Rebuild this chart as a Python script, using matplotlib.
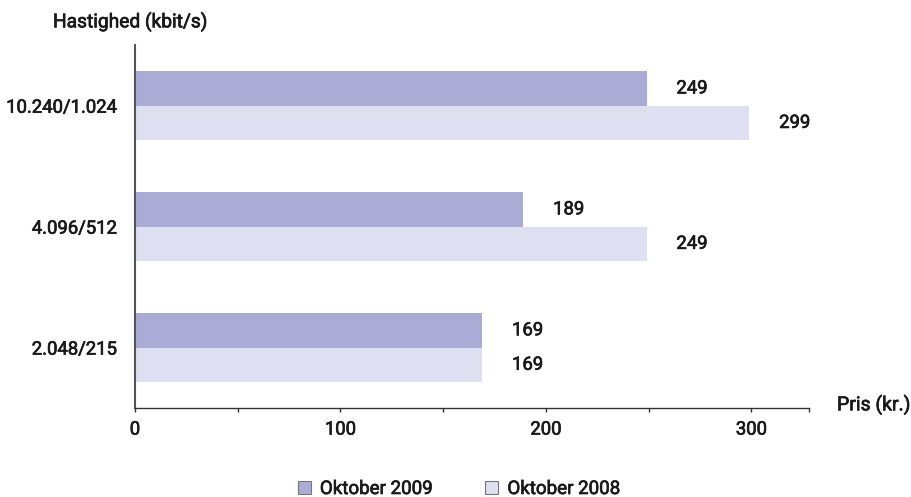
import numpy as np
from matplotlib import pyplot as plt
from matplotlib.patches import Patch
import matplotlib.patheffects as pe

categories = ['2.048/215', '4.096/512', '10.240/1.024']
oktober_2009 = [169, 189, 249]
oktober_2008 = [169, 249, 299]
x_ticks = [0, 100, 200, 300]

plt.rcParams['font.family'] = ['Roboto', 'DejaVu Sans']
txt_col = '#1a1a1a'
thick = [pe.withStroke(linewidth=0.5, foreground=txt_col)]
fnt = dict(fontsize=13.3, color=txt_col)

c_dark = '#aaacd6'
c_light = '#dedff0'

fig = plt.figure(figsize=(9.12, 4.97), dpi=100)
ax = fig.add_axes([0.148, 0.179, 0.739, 0.730])

y = np.arange(len(categories))
h = 0.285
ax.barh(y + h / 2, oktober_2009, height=h, color=c_dark, label='Oktober 2009')
ax.barh(y - h / 2, oktober_2008, height=h, color=c_light, label='Oktober 2008')

for yi, v in zip(y, oktober_2009):
    ax.text(v + 14.5, yi + h / 2, str(v), va='center', ha='left', path_effects=thick, **fnt)
for yi, v in zip(y, oktober_2008):
    ax.text(v + 14.5, yi - h / 2, str(v), va='center', ha='left', path_effects=thick, **fnt)

ax.set_xlim(0, 328)
ax.set_ylim(-0.5, 2.5)
ax.set_yticks(y)
ax.set_yticklabels(categories, path_effects=thick, **fnt)
ax.tick_params(axis='y', length=0, pad=13)
tick_pos = list(range(0, 301, 50)) + [328]
ax.set_xticks(tick_pos)
ax.set_xticklabels([str(t) if t in x_ticks else '' for t in tick_pos], path_effects=thick, **fnt)
ax.tick_params(axis='x', length=3, width=1, color='#333333', pad=6, direction='out')

for s in ['top', 'right']:
    ax.spines[s].set_visible(False)
ax.spines['left'].set_color('#555555')
ax.spines['left'].set_linewidth(1.5)
ax.spines['bottom'].set_color('#333333')
ax.spines['bottom'].set_linewidth(1.0)

fig.text(53 / 912, 1 - 22 / 497, 'Hastighed (kbit/s)', ha='left', va='center',
         fontsize=13.8, color=txt_col, path_effects=thick)
fig.text(837 / 912, 1 - 405 / 497, 'Pris (kr.)', ha='left', va='center',
         fontsize=14, color=txt_col, path_effects=thick)

handles = [Patch(facecolor=c_dark, edgecolor='#777777', linewidth=0.8),
           Patch(facecolor=c_light, edgecolor='#777777', linewidth=0.8)]
leg = fig.legend(handles, ['Oktober 2009', 'Oktober 2008'], loc='center', bbox_to_anchor=(459 / 912, 1 - 489 / 497),
                 ncol=2, frameon=False, handlelength=0.7, handleheight=0.7, handletextpad=0.48,
                 columnspacing=2.8, borderpad=0, prop=dict(family=['Roboto', 'DejaVu Sans'], size=13.5))
for t in leg.get_texts():
    t.set_color(txt_col)
    t.set_path_effects(thick)

fig.savefig('out.png', dpi=100)
